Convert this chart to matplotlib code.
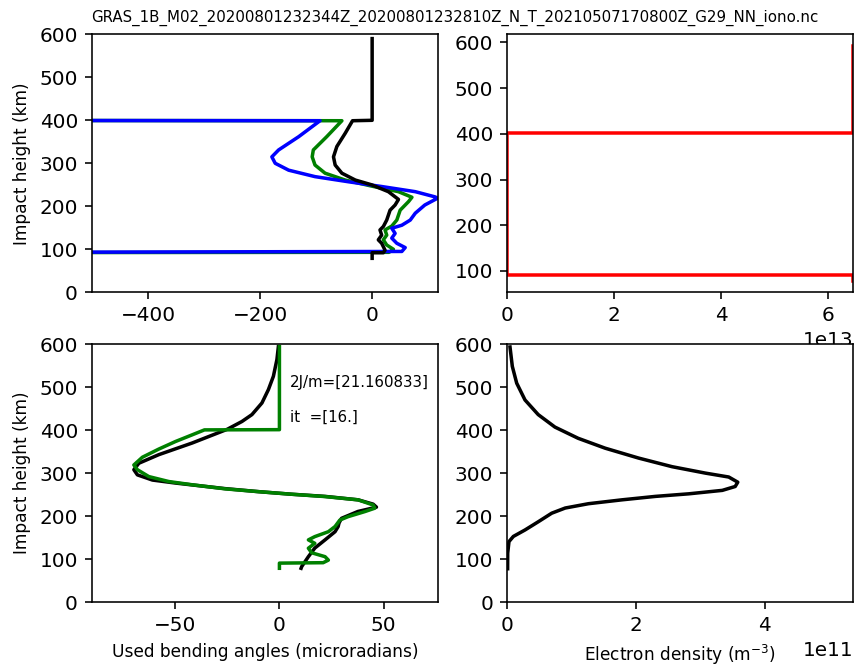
import numpy as np
import matplotlib
matplotlib.use("Agg")
import matplotlib.pyplot as plt

title = "GRAS_1B_M02_20200801232344Z_20200801232810Z_N_T_20210507170800Z_G29_NN_iono.nc"

# top left: bending angle profiles (microradians) vs impact height (km)
h_tl_k = [590, 400, 399, 370, 339, 315, 296, 277, 261, 250, 234, 216, 203, 191, 168,
          153, 145, 133, 122, 114, 98, 92, 92, 79]
a_tl_k = [0, 0, -35, -48, -63, -69, -66, -54, -30, -1, 29, 47, 41, 32, 26,
          20, 14, 17, 11, 17, 23, 20, 0, 0]
h_tl_g = [592, 400, 399, 362, 331, 315, 296, 277, 261, 247, 234, 221, 211, 191, 168,
          154, 145, 133, 122, 110, 100, 93, 92, 79]
a_tl_g = [-1000, -1000, -54, -81, -105, -107, -102, -84, -48, -1, 47, 71, 65, 50, 44,
          35, 23, 26, 20, 26, 38, 30, -1000, -1000]
h_tl_b = [592, 400, 399, 362, 331, 315, 300, 284, 269, 257, 246, 234, 222, 219, 203,
          184, 168, 156, 149, 137, 126, 114, 104, 95, 92, 79]
a_tl_b = [-1000, -1000, -93, -131, -167, -179, -173, -149, -102, -42, 17, 77, 112, 117, 94,
          77, 68, 53, 35, 41, 35, 44, 59, 53, -1000, -1000]

# top right
h_tr = [592, 401, 401, 92, 92, 79]
v_tr = [6.46e13, 6.46e13, 0, 0, 6.46e13, 6.46e13]

# bottom left: used bending angles
h_bl_k = [594, 564, 525, 494, 463, 436, 420, 402, 370, 343, 323, 308, 296, 284, 277,
          264, 257, 251, 246, 238, 228, 221, 211, 195, 184, 176, 164, 145, 126, 106, 83, 79]
a_bl_k = [-0.5, -1.2, -2.9, -5.3, -8.4, -13.2, -18, -25, -41.9, -57.9, -67.5, -69.9, -68.2, -61, -49.9,
          -26, -10, 5.9, 21.9, 37.8, 45, 46.6, 37.7, 29.8, 28.6, 28.2, 26.7, 21.9, 17, 13.9, 10.7, 10.4]
h_bl_g = [594, 401, 400.5, 389, 373.5, 356, 337, 319, 308, 292, 280.5, 273, 263.5, 257, 251,
          245.6, 238, 226, 218.6, 210.7, 199, 191, 176, 164, 152.6, 145, 137, 125.6, 115, 106,
          98, 92, 91, 79]
a_bl_g = [0, 0, -36, -41.9, -49.9, -57.9, -65.8, -69.9, -68.2, -62.7, -53.1, -41.9, -26, -10, 5.9,
          21.9, 37.8, 45, 45.8, 41, 33, 29, 26.7, 23.5, 17, 13.9, 17, 13.9, 15.5, 21.9,
          23.5, 21, 0, 0]

# bottom right: electron density
h_ne = [593, 548, 509, 470, 436, 407, 381, 358, 335, 315, 300, 291, 279, 269, 260,
        252, 246, 238, 229, 219, 207, 187, 168, 153, 141, 114, 78]
ne = [0.042, 0.078, 0.146, 0.275, 0.48, 0.74, 1.10, 1.52, 2.04, 2.56, 3.08, 3.44, 3.58, 3.54, 3.34,
      2.82, 2.30, 1.78, 1.26, 0.90, 0.69, 0.48, 0.275, 0.094, 0.026, 0.006, 0.005]
ne = [v * 1e11 for v in ne]

cost = 21.160833
niter = 16.

W, H = 855, 668
fig = plt.figure(figsize=(W / 144, H / 144), dpi=144)

def box(l, t, r, b):
    return [l / W, 1 - b / H, (r - l) / W, (b - t) / H]

ax1 = fig.add_axes(box(92, 34.3, 437.7, 292.3))
ax2 = fig.add_axes(box(507.3, 34.3, 853, 292.3))
ax3 = fig.add_axes(box(92, 344, 437.7, 602.3))
ax4 = fig.add_axes(box(507.3, 344, 853, 602.3))

lw = 1.75
ax1.plot(a_tl_g, h_tl_g, 'g', lw=lw)
ax1.plot(a_tl_b, h_tl_b, 'b', lw=lw)
ax1.plot(a_tl_k, h_tl_k, 'k', lw=lw)
ax1.set_xlim(-500, max(a_tl_b))
ax1.set_ylim(0, 600)
ax1.set_ylabel('Impact height (km)', fontsize=8.5)

ax2.plot(v_tr, h_tr, 'r', lw=lw)
ax2.set_xlim(0, max(v_tr))

ax3.plot(a_bl_k, h_bl_k, 'k', lw=lw)
ax3.plot(a_bl_g, h_bl_g, 'g', lw=lw)
ax3.set_xlim(-90, 76)
ax3.set_ylim(0, 600)
ax3.set_ylabel('Impact height (km)', fontsize=8.5)
ax3.set_xlabel('Used bending angles (microradians)', fontsize=8.5)
ax3.text(5, 500, '2J/m=[%.6f]' % cost, fontsize=7.5)
ax3.text(5, 420, 'it  =[%g.]' % niter, fontsize=7.5)

ax4.plot(ne, h_ne, 'k', lw=lw)
ax4.set_xlim(0, 1.5 * max(ne))
ax4.set_ylim(0, 600)
ax4.set_xlabel('Electron density (m$^{-3}$)', fontsize=8.5)

fig.text(455 / W, 1 - 22 / H, title, ha='center', va='baseline', fontsize=7.5)

fig.savefig('out.png', dpi=144)
